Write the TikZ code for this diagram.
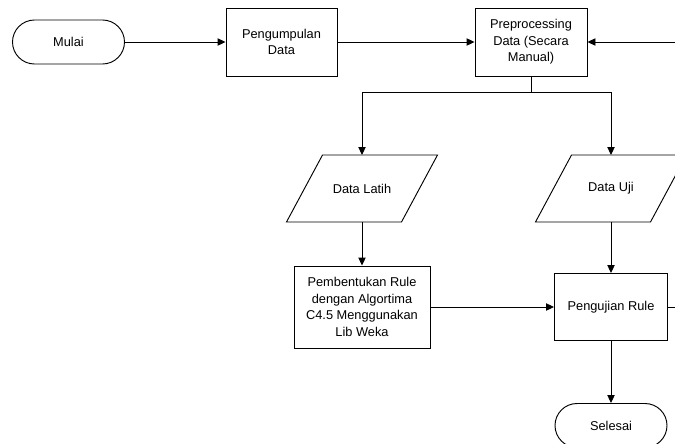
\documentclass[tikz,border=0pt]{standalone}
\usepackage{fontspec}
\setmainfont{Liberation Sans}
\usetikzlibrary{arrows.meta,calc}
\begin{document}
\begin{tikzpicture}[x=0.75pt,y=-0.75pt,
  every node/.style={font=\fontsize{9.6}{12.5}\selectfont, align=center, text=black},
  term/.style={draw, rounded corners=16.5pt, minimum width=84pt, minimum height=33pt, line width=0.7pt},
  proc/.style={draw, line width=0.7pt, inner sep=2pt},
  io/.style={draw=none},
  conn/.style={line width=0.7pt, -{Triangle[length=6pt,width=5.5pt]}},
  plain/.style={line width=0.7pt}]
\useasboundingbox (0,0) rectangle (675,443);
% nodes
\node[term] (mulai) at (68.5,42) {Mulai};
\node[proc, minimum width=83.25pt, minimum height=51pt] (peng) at (281.5,42) {Pengumpulan\\Data};
\node[proc, minimum width=84pt, minimum height=51pt] (pre) at (531,42) {Preprocessing\\Data (Secara\\Manual)};
\node[io] (dl) at (362,188.5) {Data Latih};
\node[io] (du) at (611,188.5) {Data Uji};
\node[proc, minimum width=102pt, minimum height=61.5pt] (pemb) at (362,307) {Pembentukan Rule\\dengan Algortima\\C4.5 Menggunakan\\Lib Weka};
\node[proc, minimum width=84.75pt, minimum height=50.25pt] (uji) at (611,307) {Pengujian Rule};
\node[term] (selesai) at (611,425.5) {Selesai};
% parallelograms
\draw[plain] ($(dl)+(-39.5,-33.5)$) -- ++(115,0) -- ++(-36,67) -- ++(-115,0) -- cycle;
\draw[plain] ($(du)+(-39.5,-33.5)$) -- ++(115,0) -- ++(-36,67) -- ++(-115,0) -- cycle;
\coordinate (dlT) at ($(dl)+(0,-33.5)$);
\coordinate (dlB) at ($(dl)+(0,33.5)$);
\coordinate (duT) at ($(du)+(0,-33.5)$);
\coordinate (duB) at ($(du)+(0,33.5)$);
\coordinate (split) at (531,92);
\coordinate (inR) at (675,42);
\coordinate (outR) at (675,307);
% connectors
\draw[conn] (mulai) -- (peng);
\draw[conn] (peng) -- (pre);
\draw[conn] (inR) -- (pre);
\draw[plain] (pre.south) -- (split);
\draw[conn] (split) -| (dlT);
\draw[conn] (split) -| (duT);
\draw[conn] (dlB) -- (pemb);
\draw[conn] (duB) -- (uji);
\draw[conn] (pemb) -- (uji);
\draw[plain] (uji) -- (outR);
\draw[conn] (uji) -- (selesai);
\end{tikzpicture}
\end{document}
